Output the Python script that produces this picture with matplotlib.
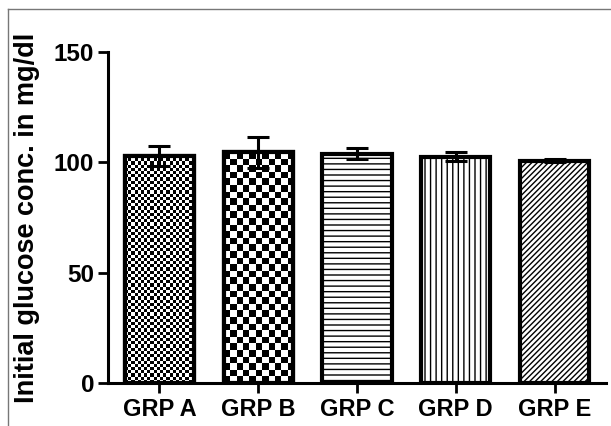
import numpy as np
import matplotlib
matplotlib.use('Agg')
import matplotlib.pyplot as plt
from matplotlib.lines import Line2D

groups = ['GRP A', 'GRP B', 'GRP C', 'GRP D', 'GRP E']
glucose = [103.0, 104.5, 104.0, 102.6, 100.8]
sem = [4.5, 7.0, 2.7, 2.0, 0.6]
hatches = [None, None, '---', '|||', '//////']
checker_px = [3.2, 6.5, None, None, None]   # checker square size, px

plt.rcParams['font.family'] = ['Liberation Sans', 'DejaVu Sans']
plt.rcParams['font.weight'] = 'bold'
plt.rcParams['hatch.linewidth'] = 1.0

fig = plt.figure(figsize=(6.11, 4.26), dpi=100)
ax = fig.add_axes([108 / 611, 1 - 383 / 426, 498 / 611, 331 / 426])
ax.set_xlim(-0.52, 4.52)
ax.set_ylim(0, 150)

x = np.arange(len(groups))
bars = ax.bar(x, glucose, width=0.7, facecolor='white', edgecolor='black',
              linewidth=3, zorder=3)
for b, h in zip(bars, hatches):
    if h:
        b.set_hatch(h)

# checkerboard fills clipped to the bars
for b, px in zip(bars, checker_px):
    if px is None:
        continue
    x0, y0, w, h = b.get_x(), b.get_y(), b.get_width(), b.get_height()
    p0 = ax.transData.transform((x0, y0))
    p1 = ax.transData.transform((x0 + w, y0 + h))
    ncols = max(1, int(round((p1[0] - p0[0]) / px)))
    nrows = max(1, int(round((p1[1] - p0[1]) / px)))
    board = np.indices((nrows, ncols)).sum(0) % 2
    im = ax.imshow(board, cmap='gray', extent=(x0, x0 + w, y0, y0 + h),
                   interpolation='nearest', aspect='auto', zorder=3.5)
    im.set_clip_path(b)
    ax.bar(x0 + w / 2, h, width=w, facecolor='none',
           edgecolor='black', linewidth=3, zorder=4)

ax.errorbar(x, glucose, yerr=sem, fmt='none', ecolor='black', elinewidth=2.2,
            capsize=8, capthick=2.2, zorder=5)

ax.set_xlim(-0.52, 4.52)
ax.set_ylim(0, 150)
ax.set_yticks([0, 50, 100, 150])
ax.set_xticks(x)
ax.set_xticklabels(groups)
ax.tick_params(axis='both', width=2, length=7, color='black')
ax.tick_params(axis='y', pad=3, labelsize=17.5)
ax.tick_params(axis='x', pad=4, labelsize=17)
for lab in ax.get_xticklabels() + ax.get_yticklabels():
    lab.set_fontweight('bold')

ax.spines['top'].set_visible(False)
ax.spines['right'].set_visible(False)
ax.spines['left'].set_linewidth(2.2)
ax.spines['bottom'].set_linewidth(2.2)

ax.set_ylabel('Initial glucose conc. in mg/dl', fontsize=19.5, fontweight='bold',
              labelpad=10)

# thin grey frame seen at the top/left of the original image
fig.add_artist(Line2D([8 / 611, 1], [1 - 9 / 426, 1 - 9 / 426],
                      transform=fig.transFigure, color='#777777', lw=1))
fig.add_artist(Line2D([8 / 611, 8 / 611], [0, 1 - 9 / 426],
                      transform=fig.transFigure, color='#777777', lw=1))

fig.savefig('out.png', dpi=100)
